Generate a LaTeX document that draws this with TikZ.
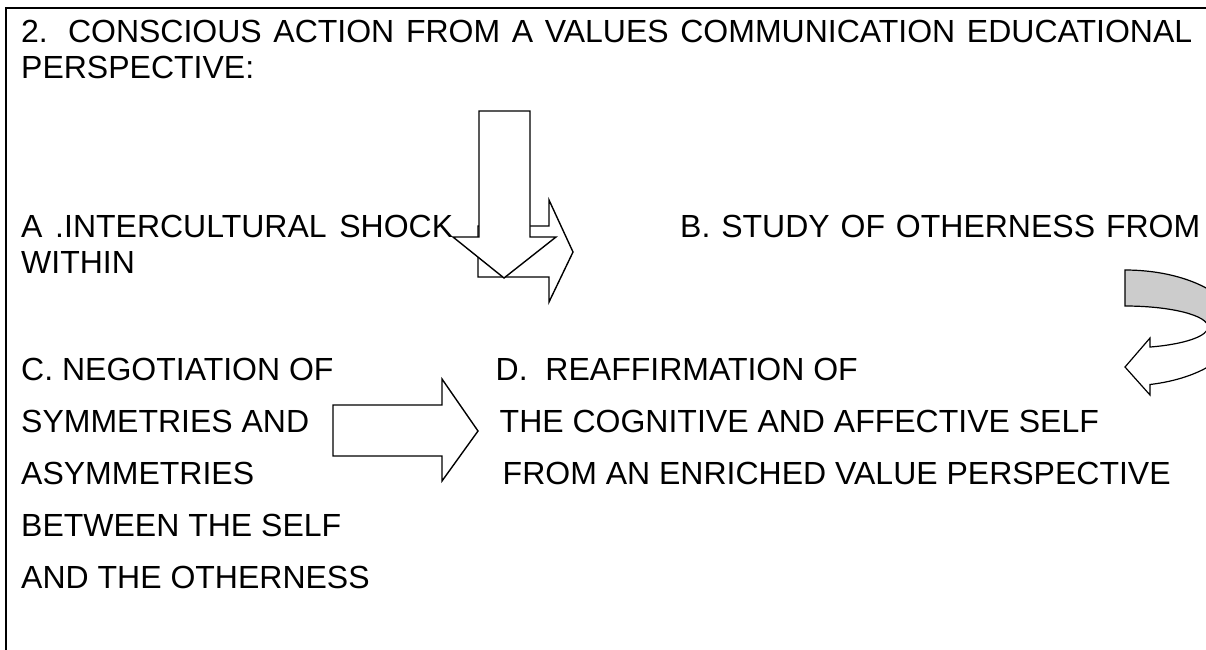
\documentclass[tikz,border=0pt]{standalone}
\usepackage{fontspec}
\setmainfont{Liberation Sans}
\definecolor{bandgray}{RGB}{204,204,204}
\begin{document}
\begin{tikzpicture}[x=1pt,y=-1pt,
  txt/.style={anchor=base west, inner sep=0pt, font=\fontsize{32}{36}\selectfont},
  blockarrow/.style={draw=black, line width=1.4pt, fill=white, line join=miter},
  framerule/.style={line width=2pt}]
\useasboundingbox (0,0) rectangle (1206,649);
\clip (0,0) rectangle (1206,649);
% frame
\draw[framerule] (1212,8) -- (6,8) -- (6,660);
% texts
\node[txt] (title1) at (21,42.5) {\makebox[1171pt][s]{2. CONSCIOUS ACTION FROM A VALUES COMMUNICATION EDUCATIONAL}};
\node[txt] (title2) at (21,78) {PERSPECTIVE:};
\node[txt] (a1) at (21,237) {\makebox[432pt][s]{A .INTERCULTURAL SHOCK}};
\node[txt] (a2) at (21,273) {WITHIN};
\node[txt] (b1) at (680,237) {\makebox[520pt][s]{B. STUDY OF OTHERNESS FROM}};
\node[txt] (c1) at (21,380) {C. NEGOTIATION OF};
\node[txt] (c2) at (21,432) {SYMMETRIES AND};
\node[txt] (c3) at (21,484) {ASYMMETRIES};
\node[txt] (c4) at (21,536) {BETWEEN THE SELF};
\node[txt] (c5) at (21,588) {AND THE OTHERNESS};
\node[txt] (d1) at (495.5,380) {D.\ \ REAFFIRMATION OF};
\node[txt] (d2) at (499.5,432) {THE COGNITIVE AND AFFECTIVE SELF};
\node[txt] (d3) at (502.5,484) {FROM AN ENRICHED VALUE PERSPECTIVE};
% right arrow (behind)
\draw[blockarrow] (478,226) -- (549,226) -- (549,200) -- (573,252) -- (549,302) -- (549,277) -- (478,277) -- cycle;
% down arrow
\draw[blockarrow] (479,111) -- (530,111) -- (530,237) -- (556,237) -- (504,278) -- (453,237) -- (479,237) -- cycle;
% C -> D arrow
\draw[blockarrow] (333,405) -- (442,405) -- (442,379) -- (478,431) -- (442,481) -- (442,456) -- (333,456) -- cycle;
% curved arrow: back (gray) part
\draw[line width=1.2pt, fill=bandgray] (1125,270) arc[start angle=-90, end angle=0, x radius=112, y radius=58]
  -- (1208,327) arc[start angle=0, end angle=-90, x radius=83, y radius=21] -- cycle;
% curved arrow: front (white) part with head
\draw[line width=1.2pt, fill=white, line join=miter] (1150,338) -- (1125,367) -- (1150,395) -- (1150,384.5)
  arc[start angle=77.1, end angle=0, x radius=112, y radius=58]
  -- (1208,327) arc[start angle=0, end angle=72.5, x radius=83, y radius=21] -- cycle;
\end{tikzpicture}
\end{document}
